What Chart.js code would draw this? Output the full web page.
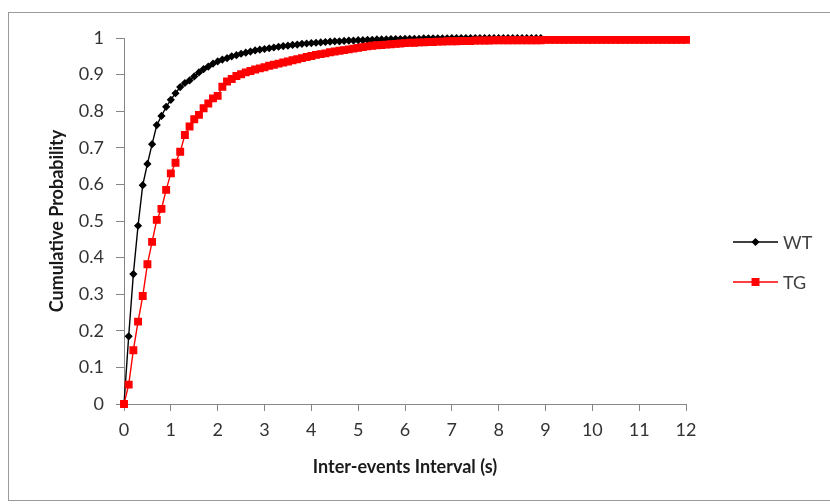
<!DOCTYPE html>
<html>
<head>
<meta charset="utf-8">
<title>Cumulative Probability</title>
<script src="https://cdn.jsdelivr.net/npm/chart.js@4/dist/chart.umd.min.js"></script>
<style>
    body { margin: 0; background: #fff; }
    .frame { position: relative; width: 830px; height: 504px; overflow: hidden; }
    .frame .border { position: absolute; left: 8px; top: 12px; width: 840px; height: 487px; border: 1px solid #9a9a9a; }
    canvas { position: absolute; left: 0; top: 0; }
</style>
</head>
<body>
<div class="frame">
    <div class="border"></div>
    <canvas id="cdfChart" width="830" height="504"></canvas>
</div>
<script>
const intervalStep = 0.1;
const seriesNames = ['WT', 'TG'];

const wtValues = [
    0, 0.185, 0.355, 0.487, 0.598, 0.656, 0.710, 0.762, 0.787, 0.812,
    0.831, 0.849, 0.866, 0.877, 0.884, 0.895, 0.906, 0.915, 0.922, 0.930,
    0.936, 0.941, 0.945, 0.950, 0.953, 0.957, 0.960, 0.963, 0.966, 0.968,
    0.970, 0.972, 0.974, 0.976, 0.978, 0.979, 0.981, 0.982, 0.984, 0.985,
    0.986, 0.987, 0.988, 0.989, 0.990, 0.991, 0.991, 0.992, 0.993, 0.993,
    0.994, 0.994, 0.995, 0.995, 0.996, 0.996, 0.996, 0.997, 0.997, 0.997,
    0.998, 0.998, 0.998, 0.998, 0.999, 0.999, 0.999, 0.999, 0.999, 0.999,
    1, 1, 1, 1, 1, 1, 1, 1, 1, 1,
    1, 1, 1, 1, 1, 1, 1, 1, 1, 1
];

const tgValues = [
    0, 0.053, 0.147, 0.225, 0.295, 0.382, 0.443, 0.503, 0.533, 0.585,
    0.630, 0.659, 0.689, 0.735, 0.758, 0.778, 0.790, 0.808, 0.821, 0.835,
    0.842, 0.867, 0.881, 0.888, 0.896, 0.901, 0.906, 0.910, 0.914, 0.917,
    0.920, 0.924, 0.927, 0.930, 0.933, 0.936, 0.939, 0.942, 0.945, 0.948,
    0.951, 0.954, 0.956, 0.958, 0.961, 0.963, 0.965, 0.967, 0.969, 0.971,
    0.973, 0.975, 0.977, 0.979, 0.980, 0.981, 0.982, 0.983, 0.984, 0.985,
    0.986, 0.987, 0.987, 0.988, 0.988, 0.989, 0.989, 0.990, 0.990, 0.991,
    0.991, 0.991, 0.992, 0.992, 0.992, 0.993, 0.993, 0.993, 0.993, 0.994,
    0.994, 0.994, 0.994, 0.994, 0.994, 0.994, 0.994, 0.994, 0.994, 0.994,
    0.995, 0.995, 0.995, 0.995, 0.995, 0.995, 0.995, 0.995, 0.995, 0.995,
    0.995, 0.995, 0.995, 0.995, 0.995, 0.995, 0.995, 0.995, 0.995, 0.995,
    0.995, 0.995, 0.995, 0.995, 0.995, 0.995, 0.995, 0.995, 0.995, 0.995,
    0.995
];

const xTickLabels = ['0', '1', '2', '3', '4', '5', '6', '7', '8', '9', '10', '11', '12'];
const yTickLabels = ['0', '0.1', '0.2', '0.3', '0.4', '0.5', '0.6', '0.7', '0.8', '0.9', '1'];

function toPoints(values) {
    return values.map((v, i) => ({ x: Math.round(i * intervalStep * 10) / 10, y: v }));
}

const axisColor = '#868686';
const tickFont = { family: 'Lato, "Open Sans", sans-serif', size: 18 };
const titleFont = { family: 'Lato, "Open Sans", sans-serif', size: 18, weight: 'bold' };

// Excel-style legend: short line with marker, then the name
const excelLegend = {
    id: 'excelLegend',
    afterDraw(chart, args, opts) {
        const ctx = chart.ctx;
        chart.data.datasets.forEach((ds, row) => {
            const y = opts.top + row * opts.rowGap;
            ctx.save();
            ctx.strokeStyle = ds.borderColor;
            ctx.lineWidth = ds.borderWidth;
            ctx.beginPath();
            ctx.moveTo(opts.left, y);
            ctx.lineTo(opts.left + opts.lineLength, y);
            ctx.stroke();
            ctx.fillStyle = ds.pointBackgroundColor;
            ctx.strokeStyle = ds.pointBorderColor;
            Chart.helpers.drawPoint(ctx, {
                pointStyle: ds.pointStyle,
                radius: ds.pointRadius,
                borderWidth: 1,
                rotation: 0
            }, opts.left + opts.lineLength / 2, y);
            ctx.fillStyle = '#404040';
            ctx.font = '18px Lato, "Open Sans", sans-serif';
            ctx.textBaseline = 'middle';
            ctx.fillText(ds.label, opts.left + opts.lineLength + 5, y + 1);
            ctx.restore();
        });
    }
};

const ctx = document.getElementById('cdfChart');
new Chart(ctx, {
    type: 'line',
    data: {
        datasets: [{
            label: seriesNames[0],
            data: toPoints(wtValues),
            borderColor: '#000000',
            backgroundColor: '#000000',
            pointBackgroundColor: '#000000',
            pointBorderColor: '#000000',
            pointStyle: 'rectRot',
            pointRadius: 3.1,
            borderWidth: 1.4,
            tension: 0,
            clip: false,
            order: 1
        }, {
            label: seriesNames[1],
            data: toPoints(tgValues),
            borderColor: '#ff0000',
            backgroundColor: '#ff0000',
            pointBackgroundColor: '#ff0000',
            pointBorderColor: '#ff0000',
            pointStyle: 'rect',
            pointRadius: 4.6,
            borderWidth: 1.4,
            tension: 0,
            clip: false,
            order: 0
        }]
    },
    options: {
        responsive: false,
        animation: false,
        layout: {
            padding: { left: 46, top: 38, right: 144, bottom: 26 }
        },
        plugins: {
            legend: { display: false },
            tooltip: { enabled: false },
            excelLegend: { left: 733, top: 242, rowGap: 40, lineLength: 45 }
        },
        scales: {
            x: {
                type: 'linear',
                min: 0,
                max: 12,
                afterFit: (scale) => { scale.height = 74; },
                ticks: {
                    stepSize: 1,
                    color: '#333333',
                    font: tickFont,
                    padding: 8,
                    maxRotation: 0,
                    callback: (value, index) => xTickLabels[index]
                },
                grid: { drawOnChartArea: false, drawTicks: true, tickLength: 7, color: axisColor },
                border: { display: true, color: axisColor, width: 1 },
                title: {
                    display: true,
                    text: 'Inter-events Interval (s)',
                    color: '#1a1a1a',
                    font: titleFont,
                    padding: 0
                }
            },
            y: {
                min: 0,
                max: 1,
                afterFit: (scale) => { scale.width = 78; },
                ticks: {
                    stepSize: 0.1,
                    color: '#333333',
                    font: tickFont,
                    padding: 12,
                    callback: (value, index) => yTickLabels[index]
                },
                grid: { drawOnChartArea: false, drawTicks: true, tickLength: 8, color: axisColor },
                border: { display: true, color: axisColor, width: 1 },
                title: {
                    display: true,
                    text: 'Cumulative Probability',
                    color: '#1a1a1a',
                    font: titleFont,
                    padding: 0
                }
            }
        }
    },
    plugins: [excelLegend]
});
</script>
</body>
</html>
